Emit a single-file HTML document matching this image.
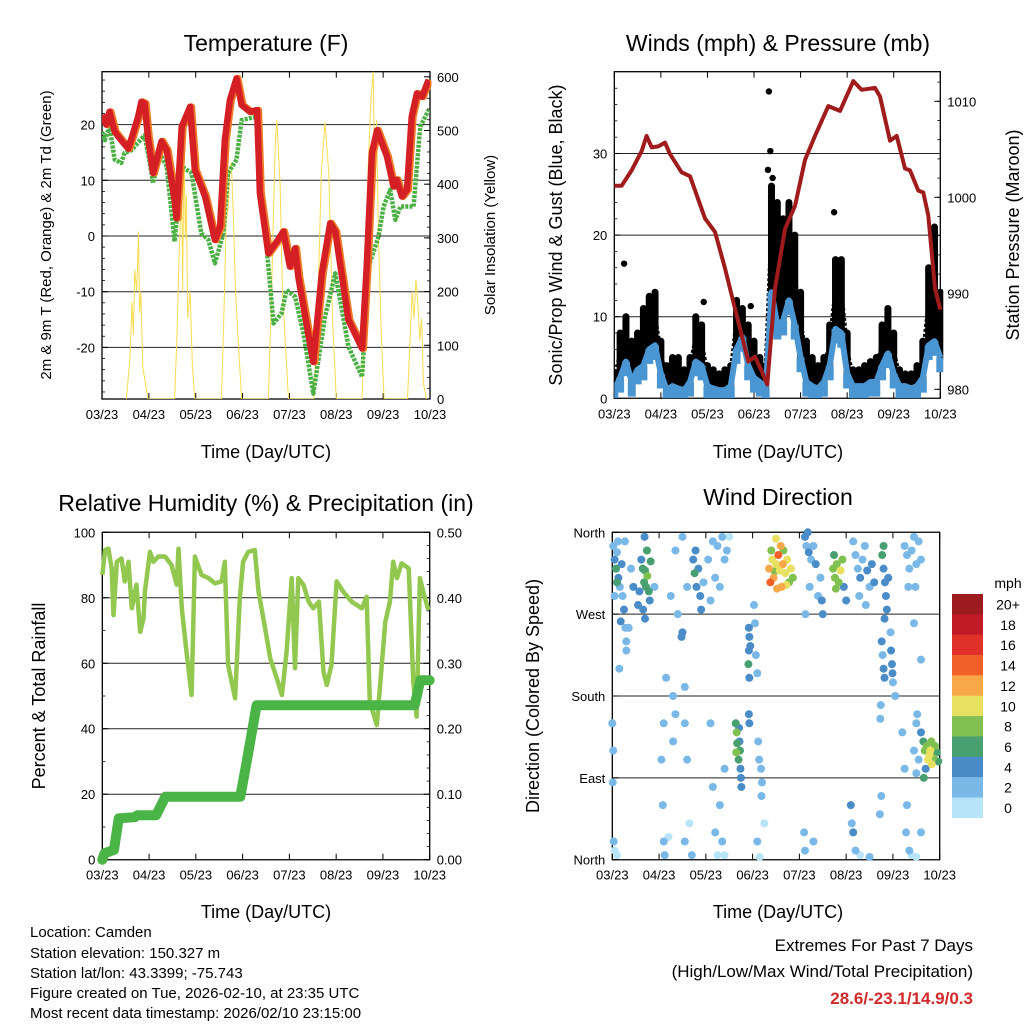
<!DOCTYPE html>
<html><head><meta charset="utf-8">
<style>
body{margin:0;background:#fff;}
svg{display:block;font-family:"Liberation Sans",sans-serif;}
</style></head>
<body>
<svg id="c" width="1024" height="1024" viewBox="0 0 1024 1024" xmlns="http://www.w3.org/2000/svg">
<g font-size="23" text-anchor="middle" fill="#000">
<text x="266" y="51">Temperature (F)</text>
<text x="778" y="51">Winds (mph) &amp; Pressure (mb)</text>
<text x="266" y="511">Relative Humidity (%) &amp; Precipitation (in)</text>
<text x="778" y="505">Wind Direction</text>
</g>
<g font-size="18" text-anchor="middle">
<text x="266" y="458">Time (Day/UTC)</text>
<text x="778" y="458">Time (Day/UTC)</text>
<text x="266" y="918">Time (Day/UTC)</text>
<text x="778" y="918">Time (Day/UTC)</text>
<text transform="translate(51,235) rotate(-90)" font-size="15">2m &amp; 9m T (Red, Orange) &amp; 2m Td (Green)</text>
<text transform="translate(495,235) rotate(-90)" font-size="15">Solar Insolation (Yellow)</text>
<text transform="translate(562,235) rotate(-90)">Sonic/Prop Wind &amp; Gust (Blue, Black)</text>
<text transform="translate(1019,235) rotate(-90)">Station Pressure (Maroon)</text>
<text transform="translate(45,696) rotate(-90)">Percent &amp; Total Rainfall</text>
<text transform="translate(539,696) rotate(-90)">Direction (Colored By Speed)</text>
</g>
<g font-size="15">
<text x="30" y="937">Location: Camden</text>
<text x="30" y="958">Station elevation: 150.327 m</text>
<text x="30" y="978">Station lat/lon: 43.3399; -75.743</text>
<text x="30" y="998">Figure created on Tue, 2026-02-10, at 23:35 UTC</text>
<text x="30" y="1018">Most recent data timestamp: 2026/02/10 23:15:00</text>
</g>
<g font-size="17" text-anchor="end">
<text x="973" y="951">Extremes For Past 7 Days</text>
<text x="973" y="977">(High/Low/Max Wind/Total Precipitation)</text>
<text x="973" y="1004" fill="#d02a2a" font-weight="bold">28.6/-23.1/14.9/0.3</text>
</g>
</svg>
<script>
// ---- data ----
const xTickLabels=["03/23","04/23","05/23","06/23","07/23","08/23","09/23","10/23"];
const tempDays=[0,0.09,0.16,0.27,0.41,0.56,0.63,0.77,0.84,0.91,0.98,1.09,1.27,1.38,1.55,1.59,1.70,1.88,1.98,2.20,2.41,2.52,2.62,2.73,2.87,2.98,3.16,3.31,3.37,3.55,3.73,3.87,4.01,4.12,4.19,4.40,4.51,4.69,4.87,4.98,5.26,5.55,5.65,5.76,5.87,6.08,6.22,6.29,6.40,6.51,6.61,6.72,6.83,6.97];
const tempValues=[21.7,20,22.3,18.7,17.2,15.7,17.5,21.4,24.1,23.8,17.8,11.3,17,15.4,6.5,3.2,19.6,23.2,11.9,7.1,-0.7,1.7,17.2,24.4,28.3,23.5,22.3,22.6,7.7,-3.1,-1,0.8,-5.5,-2.2,-7.3,-17.5,-22.6,-6.7,2.3,0.8,-15.1,-20.2,-5.5,14.9,19,14.3,8.9,10.1,7.1,8.3,21.4,25.6,25,28];
const dewDays=[0,0.06,0.16,0.27,0.41,0.48,0.63,0.91,1.02,1.09,1.23,1.38,1.55,1.70,1.91,2.12,2.27,2.41,2.59,2.69,2.87,2.98,3.13,3.30,3.41,3.66,3.83,3.94,4.12,4.30,4.51,4.76,4.98,5.26,5.55,5.69,5.90,6.01,6.15,6.26,6.37,6.65,6.79,6.97];
const dewValues=[18.7,17.2,19.6,13.7,13.1,14.9,15.4,18.1,13.1,9.5,14.9,12.5,-1,12.5,11.3,0.5,-0.7,-4.9,0.5,11.3,13.7,20.8,21.1,21.4,7.7,-15.7,-13.9,-9.7,-10.9,-17.5,-28.3,-14.5,-6.7,-19.9,-25.3,-5.5,-0.1,5.3,8.3,2.9,5.3,5.3,19.6,22.6];
const solarDays=[0.52,0.6,0.64,0.67,0.7,0.74,0.78,0.8,0.83,0.87,0.98,1.55,1.6,1.64,1.67,1.7,1.72,1.75,1.78,1.8,1.83,1.88,1.93,1.98,2.55,2.6,2.65,2.7,2.73,2.76,2.8,2.85,2.9,2.98,3.55,3.62,3.66,3.7,3.73,3.76,3.8,3.85,3.98,4.52,4.6,4.68,4.76,4.84,4.92,5.0,5.55,5.62,5.68,5.74,5.79,5.82,5.86,5.9,5.96,6.02,6.52,6.58,6.62,6.66,6.7,6.74,6.78,6.82,6.86,6.92];
const solarValues=[0,80,180,120,240,200,312,160,200,60,0,0,120,250,330,400,200,470,300,380,150,200,60,0,0,150,330,360,430,440,350,200,120,0,0,200,350,480,520,470,400,200,0,0,150,420,516,420,150,0,0,200,430,560,610,380,520,300,120,0,0,120,200,150,222,180,110,150,30,0];
const windSpeed=[1,2.5,4.5,2,3.5,4,6,6.5,3,1,1.5,1.2,1,2,4.5,4,1.5,1.2,1,1,1.5,6,7.5,4,2.5,2,1,13,9,9.5,12,9,5,2,1.5,1.2,2,4,8.5,8,3,1.5,1.5,1.5,2,2,4,5.5,3,1.5,1.5,1.2,1.5,2.5,6.5,7,5];
const windGust=[3,8,10,7,8,11,12.5,13,7,4,5,5,3.5,5,10,9,4,3.5,3,3.5,4,12,11,9,7,5,4,26,24,22,24,20,13,7,5,4,5,9,17,17,8,3.5,3.5,4,4.5,5,9,11,8,3.5,3,3,4,7,16,21,13];
const gustOutlierDays=[3.32,3.35,0.21,4.72,1.92,2.93,3.3,3.4];
const gustOutlierValues=[37.6,30.3,16.5,22.8,11.8,11.3,28,27];
const pressDays=[0,0.157,0.372,0.587,0.694,0.802,0.945,1.088,1.195,1.446,1.625,1.947,2.162,2.377,2.591,2.878,3.021,3.164,3.286,3.451,3.665,3.880,4.094,4.309,4.596,4.846,5.132,5.311,5.597,5.705,5.920,6.063,6.242,6.349,6.528,6.636,6.743,6.886,7.0];
const pressValues=[1001.2,1001.2,1002.8,1004.8,1006.4,1005.2,1005.3,1005.7,1004.5,1002.6,1002.2,997.8,996.4,992.6,988.4,982.9,983.4,981.9,980.5,990.5,996.7,999.1,1003.9,1006.4,1009.5,1009,1012.1,1011.2,1011.4,1010.5,1005.9,1006.4,1003,1002.8,1000.7,1000.5,998.1,990.5,988.3];
const rhDays=[0,0.06,0.13,0.2,0.24,0.31,0.41,0.48,0.56,0.63,0.73,0.81,0.88,0.91,1.02,1.09,1.2,1.34,1.48,1.59,1.63,1.70,1.80,1.91,1.98,2.12,2.27,2.41,2.55,2.62,2.69,2.84,2.94,3.01,3.12,3.26,3.34,3.48,3.59,3.73,3.84,3.94,4.05,4.12,4.19,4.30,4.41,4.51,4.63,4.73,4.80,4.90,5.01,5.15,5.33,5.55,5.65,5.72,5.87,5.97,6.05,6.15,6.22,6.30,6.40,6.55,6.65,6.72,6.79,6.86,6.97];
const rhValues=[87,94.6,95,89,74.7,91,92,85,91,76.8,84,69.6,73.7,81.9,94,91,92.6,92.6,90,84,95,76.8,63.5,50.3,92.6,87,86,84.4,85,91,59.5,49.3,79.8,91,94,94.6,81.9,70.7,61.5,55.4,50.3,63.5,86,58.5,86,84,78.8,76.8,78.8,57.4,53.4,59.5,85,81.9,78.8,76.8,80.3,48.3,41.1,58.5,72.7,78.8,91,86,90.5,89,54.4,43.7,86,81.9,76.3];
const precipDays=[0,0.05,0.25,0.35,0.7,0.75,1.15,1.35,2.95,3.1,3.3,6.68,6.8,7.0];
const precipValues=[0,0.01,0.015,0.063,0.065,0.068,0.068,0.096,0.096,0.155,0.236,0.236,0.274,0.274];
const dirObs=[[0.02,345,2],[0.05,330,3],[0.08,320,4],[0.1,338,2],[0.13,310,3],[0.16,300,2],[0.2,325,4],[0.22,290,2],[0.25,275,3],[0.28,255,2],[0.05,290,1],[0.3,240,2],[0.12,350,1],[0.27,350,2],[0.18,262,3],[0.08,320,6],[0.1,305,6],
[0.62,330,4],[0.65,320,5],[0.68,305,5],[0.7,318,6],[0.72,300,6],[0.75,312,7],[0.78,295,6],[0.8,285,4],[0.66,275,4],[0.7,265,4],[0.74,340,5],[0.58,295,4],[0.55,280,3],[0.45,300,3],[0.4,320,2],[0.82,328,6],[0.69,355,4],
[1.73,330,4],[1.76,315,5],[1.8,300,4],[1.84,320,4],[1.88,290,3],[1.9,275,3],[1.78,340,4],[1.95,305,2],[2.05,330,2],[2.15,350,1],[2.25,345,1],[2.35,355,1],[2.4,330,2],[2.2,310,2],[2.3,300,1],[2.1,285,2],[2.45,340,1],[2.5,355,0],[1.35,340,1],[1.5,355,1],[1.6,300,1],[1.25,290,1],
[2.92,255,4],[2.93,245,4],[2.92,230,4],[2.91,215,5],[2.93,200,4],[2.95,235,3],[3.07,225,2],[3.1,205,2],[3.05,260,2],[3.03,280,1],[2.92,160,4],[2.93,150,4],
[2.64,150,6],[2.66,140,7],[2.67,128,6],[2.65,118,8],[2.7,110,6],[2.72,130,4],[2.74,100,4],[2.75,90,4],[2.71,145,4],[2.73,120,5],[2.76,80,3],[3.14,110,2],[3.18,100,2],[3.12,130,1],[3.2,85,2],[3.19,70,1],
[3.35,320,12],[3.38,305,14],[3.42,330,10],[3.45,310,12],[3.5,325,9],[3.55,335,14],[3.58,318,10],[3.62,300,12],[3.66,340,8],[3.7,315,10],[3.74,330,9],[3.78,305,8],[3.4,340,8],[3.52,298,11],[3.6,345,12],[3.82,320,10],[3.65,325,11],[3.47,317,7],[3.72,302,9],[3.86,310,7],[3.5,353,10],
[4.12,355,3],[4.15,345,2],[4.2,338,3],[4.25,330,2],[4.3,345,2],[4.35,325,3],[4.18,360,4],[4.22,300,2],[4.4,290,2],[4.45,310,2],[4.5,270,4],[4.48,285,4],[4.13,270,1],
[4.72,320,8],[4.76,310,8],[4.8,325,7],[4.84,305,8],[4.88,318,9],[4.92,330,7],[4.78,298,8],[4.74,335,6],[4.95,300,4],[5.0,285,4],
[5.2,335,2],[5.25,320,2],[5.3,310,3],[5.35,330,2],[5.4,345,2],[5.45,318,3],[5.5,300,2],[5.55,325,3],[5.6,305,4],[5.28,290,2],[5.42,280,2],[5.15,350,1],
[5.77,335,5],[5.8,320,4],[5.83,305,4],[5.85,290,4],[5.87,275,4],[5.8,345,6],[5.9,310,3],[5.82,265,3],
[5.76,240,3],[5.78,225,2],[5.8,210,3],[5.82,200,4],[5.95,250,2],[5.96,230,3],[5.98,215,3],[5.99,205,4],[6.0,195,2],[6.05,180,1],[5.74,170,2],[5.73,155,2],
[6.25,345,1],[6.3,335,1],[6.35,320,1],[6.4,340,1],[6.45,355,1],[6.5,325,1],[6.55,350,1],[6.48,300,1],[6.33,300,1],[6.6,330,1],[6.45,260,1],[6.6,220,1],
[6.65,130,6],[6.68,120,7],[6.72,125,8],[6.75,110,9],[6.78,115,10],[6.8,120,9],[6.83,105,10],[6.86,112,7],[6.9,125,7],[6.94,118,6],[6.7,100,4],[6.66,90,6],[6.97,108,6],[6.82,130,8],[6.6,140,4],[6.55,110,2],[6.5,95,2],[6.45,120,2],[6.5,150,1],[6.52,160,2],
[0.0,150,1],[0.02,120,1],[0.01,85,1],[0.03,20,1],[0.05,10,0],[0.1,5,0],[1.05,110,1],[1.1,150,1],[1.15,200,1],[1.08,60,1],[1.1,20,1],[1.12,5,1],[1.2,25,0],[1.3,130,1],[1.35,160,2],[1.55,150,1],[1.6,110,1],[1.65,40,0],[1.7,5,1],[1.55,20,1],[2.1,150,1],[2.15,80,1],[2.2,30,1],[2.25,5,0],[2.3,60,1],[2.4,100,1],[2.35,20,1],[2.4,5,0],[3.1,20,1],[3.15,3,0],[3.25,40,0],[4.1,30,1],[4.12,10,1],[4.3,20,1],[5.1,60,3],[5.12,40,2],[5.15,30,3],[5.2,10,1],[5.3,5,0],[5.5,3,1],[5.72,50,2],[5.75,70,1],[6.2,140,2],[6.25,100,1],[6.3,60,1],[6.28,30,1],[6.35,10,1],[6.4,5,0],[6.5,3,0],[6.6,30,1],[0.9,300,2],[1.4,270,2],[1.48,245,3],[1.5,250,3],[1.3,180,1],[1.55,190,1],[0.15,210,1],[0.3,230,2],[0.35,255,2]];
const speedLevels=["20+","18","16","14","12","10","8","6","4","2","0"];
const speedColors=["#9b1b1e","#c21b27","#e0302a","#f06028","#f8a848","#e8e060","#80c050","#48a070","#4a8cc8","#7ab8e8","#b8e4f8"];

// ---- helpers ----
const NS="http://www.w3.org/2000/svg";
const svg=document.getElementById('c');
function mk(tag,attrs,parent){const e=document.createElementNS(NS,tag);for(const k in attrs)e.setAttribute(k,attrs[k]);(parent||svg).appendChild(e);return e;}
function lin(d0,d1,r0,r1){return v=>r0+(v-d0)/(d1-d0)*(r1-r0);}
function pathFrom(xs,ys,fx,fy){return xs.map((d,i)=>(i?'L':'M')+fx(d).toFixed(1)+','+fy(ys[i]).toFixed(1)).join('');}

function frame(name,L,T,R,B){
  const g=mk('g',{});
  
  
  const r=mk('rect',{x:L,y:T,width:R-L,height:B-T,fill:'none',stroke:'#000','stroke-width':1.3},g);
  
  
  const fx=lin(0,7,L,R);
  xTickLabels.forEach((lab,i)=>{
    const x=fx(i);
    mk('line',{x1:x,y1:B,x2:x,y2:B-6,stroke:'#000'},g);
    mk('line',{x1:x,y1:T,x2:x,y2:T+6,stroke:'#000'},g);
    const t=mk('text',{x:x,y:B+20,'font-size':13,'text-anchor':'middle'},g);
    t.textContent=lab;
    
    
  });
  return {g,fx};
}
function yAxis(g,side,L,R,fy,vals,labels,minorStep,lo,hi,grid){
  vals.forEach((v,i)=>{
    const y=fy(v);
    if(grid) mk('line',{x1:L,y1:y,x2:R,y2:y,stroke:'#222','stroke-width':1},g);
    const x=side==='l'?L:R;
    mk('line',{x1:x,y1:y,x2:side==='l'?x+6:x-6,y2:y,stroke:'#000'},g);
    const t=mk('text',{x:side==='l'?L-7:R+7,y:y+5,'font-size':13,'text-anchor':side==='l'?'end':'start'},g);
    t.textContent=labels[i];
    
    
  });
  if(minorStep){for(let v=Math.ceil(lo/minorStep)*minorStep;v<=hi;v+=minorStep){const y=fy(v);const x=side==='l'?L:R;mk('line',{x1:x,y1:y,x2:side==='l'?x+3:x-3,y2:y,stroke:'#000','stroke-width':0.8},g);}}
}

// ---- Temperature panel ----
(function(){
  const L=102,T=71.7,R=430,B=399;
  const {g,fx}=frame('temperature',L,T,R,B);
  const fy=lin(0,10,236,180.3);
  const fs=lin(0,100,399,345.3);
  yAxis(g,'l',L,R,fy,[20,10,0,-10,-20],['20','10','0','-10','-20'],2,-28,28,true);
  yAxis(g,'r',L,R,fs,[0,100,200,300,400,500,600],['0','100','200','300','400','500','600'],20,0,610,false);
  const clip=mk('clipPath',{id:'ct'});mk('rect',{x:L,y:T,width:R-L,height:B-T},clip);
  const p1=mk('path',{d:pathFrom(solarDays,solarValues,fx,fs),fill:'none',stroke:'#f8dc50','stroke-width':1,'clip-path':'url(#ct)'});
  
  
  const p2=mk('path',{d:pathFrom(dewDays,dewValues,fx,fy),fill:'none',stroke:'#4bb043','stroke-width':4.5,'stroke-dasharray':'3 1.2','stroke-linejoin':'round','clip-path':'url(#ct)'});
  
  
  const p3=mk('path',{d:pathFrom(tempDays,tempValues,fx,fy),fill:'none',stroke:'#f07a28','stroke-width':7,'stroke-linejoin':'round',transform:'translate(1.5,0)','clip-path':'url(#ct)'});
  
  
  const p4=mk('path',{d:pathFrom(tempDays,tempValues,fx,fy),fill:'none',stroke:'#d42025','stroke-width':6.5,'stroke-linejoin':'round','clip-path':'url(#ct)'});
  
  
})();

// ---- Winds panel ----
(function(){
  const L=614.3,T=71.7,R=940.3,B=398.3;
  const {g,fx}=frame('winds',L,T,R,B);
  const fy=lin(0,10,398.3,316.7);
  const fp=lin(980,990,389.3,293.3);
  yAxis(g,'l',L,R,fy,[0,10,20,30],['0','10','20','30'],2,0,38,true);
  yAxis(g,'r',L,R,fp,[980,990,1000,1010],['980','990','1000','1010'],2,980,1012,false);
  const clip=mk('clipPath',{id:'cw'});mk('rect',{x:L,y:T-2,width:R-L+3,height:B-T+2},clip);
  const wg=mk('g',{'clip-path':'url(#cw)'});
  
  
  const n=windSpeed.length;
  const td=i=>i*7/(n-1);
  windGust.forEach((v,i)=>{
    const b=mk('line',{x1:fx(td(i)),y1:fy(windSpeed[i]),x2:fx(td(i)),y2:fy(v),stroke:'#000','stroke-width':7,'stroke-linecap':'round'},wg);
    
    
  });
  const gl=mk('path',{d:pathFrom(windSpeed.map((_,i)=>td(i)),windSpeed.map((w,i)=>(w+windGust[i])/2),fx,fy),fill:'none',stroke:'#000','stroke-width':5,'stroke-linejoin':'round','stroke-dasharray':'3 2'},wg);
  
  
  gustOutlierDays.forEach((d,i)=>{
    const c=mk('circle',{cx:fx(d),cy:fy(gustOutlierValues[i]),r:3.2,fill:'#000'},wg);
    
    
  });
  windSpeed.forEach((v,i)=>{
    const b=mk('line',{x1:fx(td(i)),y1:fy(Math.max(0,v-1.8)),x2:fx(td(i)),y2:fy(v),stroke:'#4a96d2','stroke-width':8},wg);
    
    
  });
  const wl=mk('path',{d:pathFrom(windSpeed.map((_,i)=>td(i)),windSpeed,fx,fy),fill:'none',stroke:'#4a96d2','stroke-width':6,'stroke-linejoin':'round'},wg);
  
  
  const pl=mk('path',{d:pathFrom(pressDays,pressValues,fx,fp),fill:'none',stroke:'#a01c1c','stroke-width':4,'stroke-linejoin':'round'},wg);
  
  
})();

// ---- RH panel ----
(function(){
  const L=102.3,T=532.3,R=429.7,B=859.7;
  const {g,fx}=frame('humidity',L,T,R,B);
  const fy=lin(0,100,B,T);
  const fr=lin(0,0.5,B,T);
  yAxis(g,'l',L,R,fy,[0,20,40,60,80,100],['0','20','40','60','80','100'],10,0,100,true);
  yAxis(g,'r',L,R,fr,[0,0.1,0.2,0.3,0.4,0.5],['0.00','0.10','0.20','0.30','0.40','0.50'],0.02,0,0.5,false);
  const p1=mk('path',{d:pathFrom(rhDays,rhValues,fx,fy),fill:'none',stroke:'#92c850','stroke-width':4.5,'stroke-linejoin':'round'});
  
  
  const p2=mk('path',{d:pathFrom(precipDays,precipValues,fx,fr),fill:'none',stroke:'#4ab446','stroke-width':10,'stroke-linejoin':'round','stroke-linecap':'round'});
  
  
})();

// ---- Wind direction panel ----
(function(){
  const L=612.3,T=532.3,R=939.7,B=859.7;
  const {g,fx}=frame('wind-direction',L,T,R,B);
  const fy=lin(0,360,B,T);
  yAxis(g,'l',L,R,fy,[0,90,180,270,360],['North','East','South','West','North'],null,0,0,true);
  const colorFor=s=>speedColors[10-Math.min(10,Math.round(s/2))];
  const ordered=dirObs.slice().sort((a,b)=>a[2]-b[2]);
  ordered.forEach(o=>{
    const c=mk('circle',{cx:fx(o[0]),cy:fy(o[1]),r:4,fill:colorFor(o[2])});
    
    
  });
  const lg=mk('g',{});
  
  
  const ut=mk('text',{x:1008,y:588,'font-size':14,'text-anchor':'middle'},lg);
  ut.textContent='mph';
  
  
  speedLevels.forEach((lab,i)=>{
    const y=594+i*20.35;
    const r=mk('rect',{x:952,y:y,width:31,height:20.6,fill:speedColors[i]},lg);
    
    
    const t=mk('text',{x:1008,y:y+15.5,'font-size':14,'text-anchor':'middle'},lg);
    t.textContent=lab;
    
    
  });
})();
</script>
</body></html>
